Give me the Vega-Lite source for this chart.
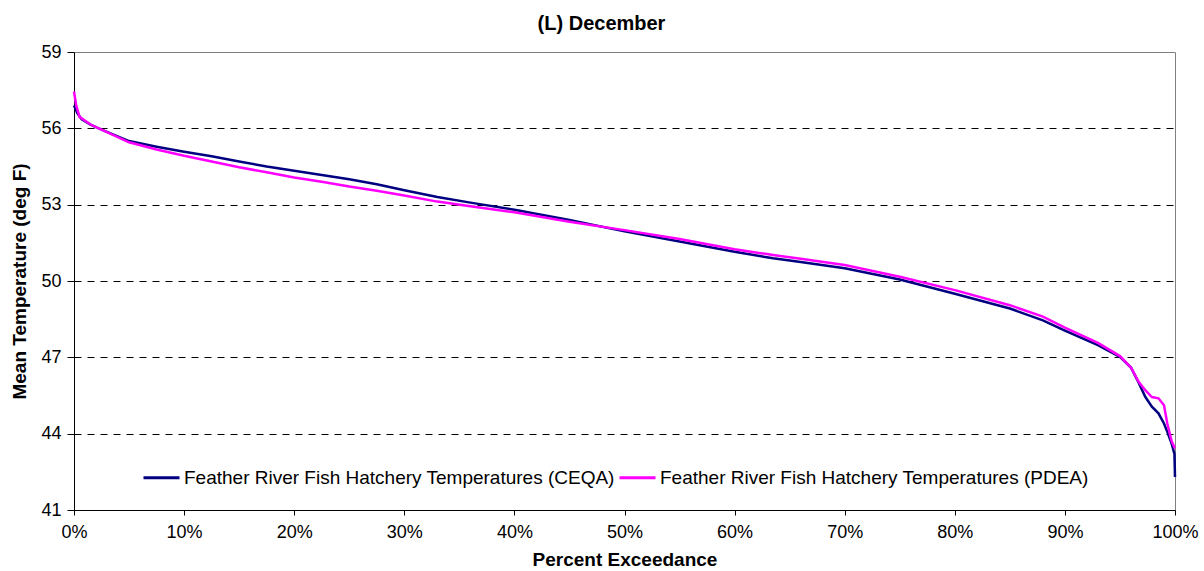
{
  "$schema": "https://vega.github.io/schema/vega-lite/v6.json",
  "autosize": {"type": "none"},
  "padding": {"left": 74, "top": 52, "right": 29, "bottom": 61},
  "width": 1101,
  "height": 458,
  "background": "white",
  "title": {"text": "(L) December", "font": "Liberation Sans", "fontSize": 20, "fontWeight": "bold", "color": "black", "anchor": "middle", "offset": 9, "dx": -23},
  "config": {
    "view": {"stroke": "#808080", "strokeWidth": 1},
    "font": "Liberation Sans"
  },
  "data": {"values": [
    {"p": 0.0, "t": 56.9, "s": "Feather River Fish Hatchery Temperatures (CEQA)"},
    {"p": 0.003, "t": 56.6, "s": "Feather River Fish Hatchery Temperatures (CEQA)"},
    {"p": 0.007, "t": 56.35, "s": "Feather River Fish Hatchery Temperatures (CEQA)"},
    {"p": 0.015, "t": 56.15, "s": "Feather River Fish Hatchery Temperatures (CEQA)"},
    {"p": 0.025, "t": 55.95, "s": "Feather River Fish Hatchery Temperatures (CEQA)"},
    {"p": 0.05, "t": 55.5, "s": "Feather River Fish Hatchery Temperatures (CEQA)"},
    {"p": 0.075, "t": 55.28, "s": "Feather River Fish Hatchery Temperatures (CEQA)"},
    {"p": 0.10, "t": 55.08, "s": "Feather River Fish Hatchery Temperatures (CEQA)"},
    {"p": 0.125, "t": 54.9, "s": "Feather River Fish Hatchery Temperatures (CEQA)"},
    {"p": 0.15, "t": 54.7, "s": "Feather River Fish Hatchery Temperatures (CEQA)"},
    {"p": 0.175, "t": 54.5, "s": "Feather River Fish Hatchery Temperatures (CEQA)"},
    {"p": 0.20, "t": 54.33, "s": "Feather River Fish Hatchery Temperatures (CEQA)"},
    {"p": 0.225, "t": 54.17, "s": "Feather River Fish Hatchery Temperatures (CEQA)"},
    {"p": 0.25, "t": 54.0, "s": "Feather River Fish Hatchery Temperatures (CEQA)"},
    {"p": 0.275, "t": 53.8, "s": "Feather River Fish Hatchery Temperatures (CEQA)"},
    {"p": 0.30, "t": 53.57, "s": "Feather River Fish Hatchery Temperatures (CEQA)"},
    {"p": 0.33, "t": 53.3, "s": "Feather River Fish Hatchery Temperatures (CEQA)"},
    {"p": 0.36, "t": 53.08, "s": "Feather River Fish Hatchery Temperatures (CEQA)"},
    {"p": 0.40, "t": 52.8, "s": "Feather River Fish Hatchery Temperatures (CEQA)"},
    {"p": 0.45, "t": 52.4, "s": "Feather River Fish Hatchery Temperatures (CEQA)"},
    {"p": 0.50, "t": 51.95, "s": "Feather River Fish Hatchery Temperatures (CEQA)"},
    {"p": 0.55, "t": 51.55, "s": "Feather River Fish Hatchery Temperatures (CEQA)"},
    {"p": 0.60, "t": 51.15, "s": "Feather River Fish Hatchery Temperatures (CEQA)"},
    {"p": 0.635, "t": 50.89, "s": "Feather River Fish Hatchery Temperatures (CEQA)"},
    {"p": 0.66, "t": 50.75, "s": "Feather River Fish Hatchery Temperatures (CEQA)"},
    {"p": 0.70, "t": 50.5, "s": "Feather River Fish Hatchery Temperatures (CEQA)"},
    {"p": 0.75, "t": 50.06, "s": "Feather River Fish Hatchery Temperatures (CEQA)"},
    {"p": 0.80, "t": 49.5, "s": "Feather River Fish Hatchery Temperatures (CEQA)"},
    {"p": 0.85, "t": 48.92, "s": "Feather River Fish Hatchery Temperatures (CEQA)"},
    {"p": 0.88, "t": 48.45, "s": "Feather River Fish Hatchery Temperatures (CEQA)"},
    {"p": 0.90, "t": 48.05, "s": "Feather River Fish Hatchery Temperatures (CEQA)"},
    {"p": 0.93, "t": 47.48, "s": "Feather River Fish Hatchery Temperatures (CEQA)"},
    {"p": 0.95, "t": 47.02, "s": "Feather River Fish Hatchery Temperatures (CEQA)"},
    {"p": 0.96, "t": 46.6, "s": "Feather River Fish Hatchery Temperatures (CEQA)"},
    {"p": 0.967, "t": 46.0, "s": "Feather River Fish Hatchery Temperatures (CEQA)"},
    {"p": 0.973, "t": 45.45, "s": "Feather River Fish Hatchery Temperatures (CEQA)"},
    {"p": 0.979, "t": 45.06, "s": "Feather River Fish Hatchery Temperatures (CEQA)"},
    {"p": 0.985, "t": 44.8, "s": "Feather River Fish Hatchery Temperatures (CEQA)"},
    {"p": 0.99, "t": 44.4, "s": "Feather River Fish Hatchery Temperatures (CEQA)"},
    {"p": 0.993, "t": 44.07, "s": "Feather River Fish Hatchery Temperatures (CEQA)"},
    {"p": 0.997, "t": 43.6, "s": "Feather River Fish Hatchery Temperatures (CEQA)"},
    {"p": 0.9995, "t": 43.2, "s": "Feather River Fish Hatchery Temperatures (CEQA)"},
    {"p": 1.0, "t": 42.3, "s": "Feather River Fish Hatchery Temperatures (CEQA)"},
    {"p": 0.0, "t": 57.45, "s": "Feather River Fish Hatchery Temperatures (PDEA)"},
    {"p": 0.002, "t": 56.9, "s": "Feather River Fish Hatchery Temperatures (PDEA)"},
    {"p": 0.005, "t": 56.45, "s": "Feather River Fish Hatchery Temperatures (PDEA)"},
    {"p": 0.015, "t": 56.15, "s": "Feather River Fish Hatchery Temperatures (PDEA)"},
    {"p": 0.025, "t": 55.95, "s": "Feather River Fish Hatchery Temperatures (PDEA)"},
    {"p": 0.05, "t": 55.45, "s": "Feather River Fish Hatchery Temperatures (PDEA)"},
    {"p": 0.075, "t": 55.17, "s": "Feather River Fish Hatchery Temperatures (PDEA)"},
    {"p": 0.10, "t": 54.92, "s": "Feather River Fish Hatchery Temperatures (PDEA)"},
    {"p": 0.125, "t": 54.7, "s": "Feather River Fish Hatchery Temperatures (PDEA)"},
    {"p": 0.15, "t": 54.47, "s": "Feather River Fish Hatchery Temperatures (PDEA)"},
    {"p": 0.175, "t": 54.27, "s": "Feather River Fish Hatchery Temperatures (PDEA)"},
    {"p": 0.20, "t": 54.07, "s": "Feather River Fish Hatchery Temperatures (PDEA)"},
    {"p": 0.225, "t": 53.9, "s": "Feather River Fish Hatchery Temperatures (PDEA)"},
    {"p": 0.25, "t": 53.71, "s": "Feather River Fish Hatchery Temperatures (PDEA)"},
    {"p": 0.275, "t": 53.55, "s": "Feather River Fish Hatchery Temperatures (PDEA)"},
    {"p": 0.30, "t": 53.36, "s": "Feather River Fish Hatchery Temperatures (PDEA)"},
    {"p": 0.33, "t": 53.12, "s": "Feather River Fish Hatchery Temperatures (PDEA)"},
    {"p": 0.36, "t": 52.94, "s": "Feather River Fish Hatchery Temperatures (PDEA)"},
    {"p": 0.40, "t": 52.7, "s": "Feather River Fish Hatchery Temperatures (PDEA)"},
    {"p": 0.45, "t": 52.33, "s": "Feather River Fish Hatchery Temperatures (PDEA)"},
    {"p": 0.50, "t": 52.0, "s": "Feather River Fish Hatchery Temperatures (PDEA)"},
    {"p": 0.55, "t": 51.65, "s": "Feather River Fish Hatchery Temperatures (PDEA)"},
    {"p": 0.60, "t": 51.25, "s": "Feather River Fish Hatchery Temperatures (PDEA)"},
    {"p": 0.635, "t": 51.02, "s": "Feather River Fish Hatchery Temperatures (PDEA)"},
    {"p": 0.66, "t": 50.87, "s": "Feather River Fish Hatchery Temperatures (PDEA)"},
    {"p": 0.70, "t": 50.63, "s": "Feather River Fish Hatchery Temperatures (PDEA)"},
    {"p": 0.75, "t": 50.17, "s": "Feather River Fish Hatchery Temperatures (PDEA)"},
    {"p": 0.80, "t": 49.64, "s": "Feather River Fish Hatchery Temperatures (PDEA)"},
    {"p": 0.85, "t": 49.05, "s": "Feather River Fish Hatchery Temperatures (PDEA)"},
    {"p": 0.88, "t": 48.6, "s": "Feather River Fish Hatchery Temperatures (PDEA)"},
    {"p": 0.90, "t": 48.17, "s": "Feather River Fish Hatchery Temperatures (PDEA)"},
    {"p": 0.93, "t": 47.57, "s": "Feather River Fish Hatchery Temperatures (PDEA)"},
    {"p": 0.95, "t": 47.05, "s": "Feather River Fish Hatchery Temperatures (PDEA)"},
    {"p": 0.96, "t": 46.6, "s": "Feather River Fish Hatchery Temperatures (PDEA)"},
    {"p": 0.967, "t": 46.04, "s": "Feather River Fish Hatchery Temperatures (PDEA)"},
    {"p": 0.973, "t": 45.71, "s": "Feather River Fish Hatchery Temperatures (PDEA)"},
    {"p": 0.979, "t": 45.44, "s": "Feather River Fish Hatchery Temperatures (PDEA)"},
    {"p": 0.985, "t": 45.39, "s": "Feather River Fish Hatchery Temperatures (PDEA)"},
    {"p": 0.99, "t": 45.12, "s": "Feather River Fish Hatchery Temperatures (PDEA)"},
    {"p": 0.993, "t": 44.4, "s": "Feather River Fish Hatchery Temperatures (PDEA)"},
    {"p": 0.997, "t": 43.7, "s": "Feather River Fish Hatchery Temperatures (PDEA)"},
    {"p": 1.0, "t": 43.42, "s": "Feather River Fish Hatchery Temperatures (PDEA)"}
  ]},
  "mark": {"type": "line", "strokeWidth": 2.5, "interpolate": "linear"},
  "encoding": {
    "x": {
      "field": "p", "type": "quantitative",
      "scale": {"domain": [0, 1], "nice": false, "zero": false},
      "axis": {
        "title": "Percent Exceedance", "format": ".0%",
        "values": [0, 0.1, 0.2, 0.3, 0.4, 0.5, 0.6, 0.7, 0.8, 0.9, 1],
        "grid": false, "domainColor": "black", "domainWidth": 1,
        "tickColor": "black", "tickSize": 5, "tickWidth": 1,
        "labelFont": "Liberation Sans", "labelFontSize": 18, "labelColor": "black", "labelPadding": 8,
        "labelFlush": false, "labelOverlap": false,
        "titleFont": "Liberation Sans", "titleFontSize": 19, "titleFontWeight": "bold", "titleColor": "black", "titlePadding": 9
      }
    },
    "y": {
      "field": "t", "type": "quantitative",
      "scale": {"domain": [41, 59], "nice": false, "zero": false},
      "axis": {
        "title": "Mean Temperature (deg F)",
        "values": [41, 44, 47, 50, 53, 56, 59],
        "grid": true, "gridColor": "black", "gridDash": [7, 6], "gridWidth": 1,
        "gridOpacity": {"condition": {"test": "datum.value == 41 || datum.value == 59", "value": 0}, "value": 1},
        "domainColor": "black", "domainWidth": 1,
        "tickColor": "black", "tickSize": 7, "tickWidth": 1,
        "labelFont": "Liberation Sans", "labelFontSize": 18, "labelColor": "black", "labelPadding": 6,
        "labelFlush": false, "labelOverlap": false,
        "titleFont": "Liberation Sans", "titleFontSize": 19, "titleFontWeight": "bold", "titleColor": "black", "titlePadding": 11
      }
    },
    "color": {
      "field": "s", "type": "nominal",
      "scale": {"domain": ["Feather River Fish Hatchery Temperatures (CEQA)", "Feather River Fish Hatchery Temperatures (PDEA)"], "range": ["#000080", "#FF00FF"]},
      "legend": {
        "title": null, "orient": "none", "legendX": 68, "legendY": 406,
        "direction": "horizontal", "columns": 2, "columnPadding": -2,
        "symbolType": "stroke", "symbolSize": 1296, "symbolStrokeWidth": 3,
        "labelFont": "Liberation Sans", "labelFontSize": 19, "labelColor": "black", "labelOffset": 3,
        "labelLimit": 0
      }
    },
    "order": {"field": "s", "type": "nominal"}
  }
}
